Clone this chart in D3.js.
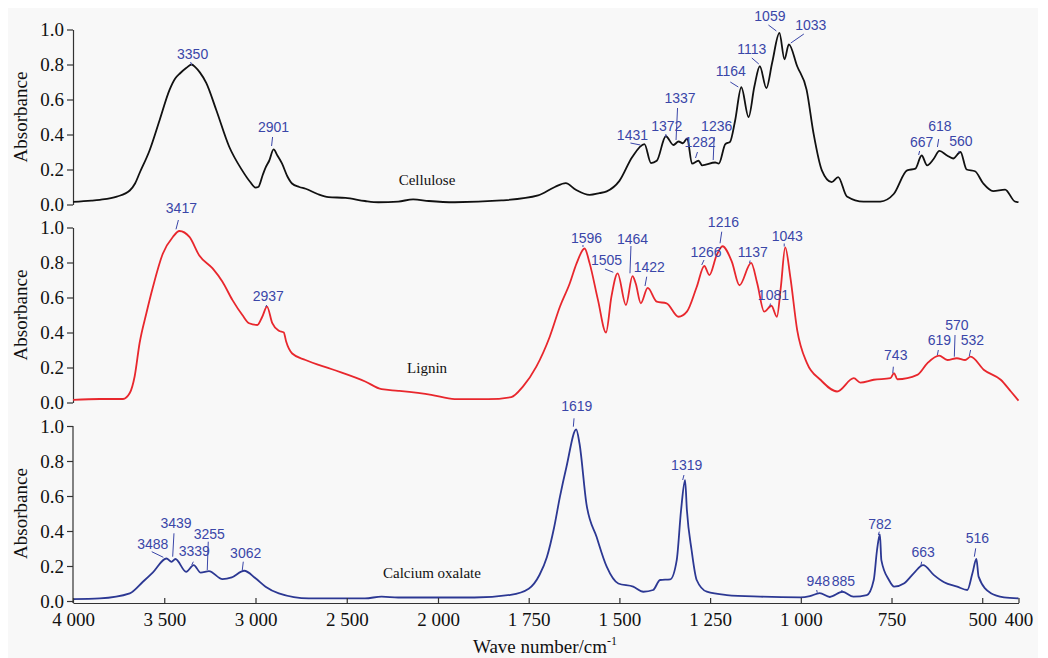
<!DOCTYPE html>
<html>
<head>
<meta charset="utf-8">
<script src="https://cdn.jsdelivr.net/npm/d3@7"></script>
<style>
  body { margin: 0; background: #fff; }
  svg { display: block; }
</style>
</head>
<body>
<div id="chart"></div>
<script>
// spectra: wave number (cm-1) and absorbance
const celluloseWave = [4000, 3900, 3853, 3760, 3689, 3660, 3635, 3580, 3526, 3471, 3440, 3413, 3380, 3350, 3330, 3305, 3270, 3215, 3144, 3073, 3030, 3000, 2985, 2960, 2943, 2925, 2901, 2880, 2855, 2825, 2800, 2760, 2725, 2660, 2600, 2507, 2400, 2327, 2218, 2136, 2050, 1954, 1825, 1724, 1678, 1648, 1620, 1582, 1555, 1535, 1500, 1465, 1431, 1413, 1397, 1372, 1351, 1337, 1325, 1313, 1300, 1282, 1272, 1236, 1226, 1208, 1195, 1181, 1164, 1144, 1128, 1113, 1095, 1079, 1059, 1045, 1033, 1010, 984, 965, 942, 915, 897, 873, 827, 781, 744, 707, 684, 667, 652, 634, 618, 597, 580, 560, 543, 520, 497, 470, 437, 410, 400];
const celluloseAbs = [0.015, 0.022, 0.027, 0.045, 0.08, 0.12, 0.18, 0.31, 0.48, 0.655, 0.72, 0.75, 0.78, 0.80, 0.785, 0.755, 0.695, 0.54, 0.33, 0.195, 0.13, 0.097, 0.10, 0.17, 0.215, 0.25, 0.315, 0.28, 0.235, 0.16, 0.12, 0.10, 0.09, 0.06, 0.042, 0.038, 0.02, 0.013, 0.017, 0.029, 0.02, 0.013, 0.023, 0.052, 0.10, 0.122, 0.084, 0.055, 0.065, 0.075, 0.135, 0.27, 0.345, 0.237, 0.25, 0.39, 0.34, 0.36, 0.35, 0.378, 0.234, 0.25, 0.224, 0.24, 0.234, 0.345, 0.358, 0.48, 0.67, 0.50, 0.674, 0.79, 0.665, 0.81, 0.98, 0.83, 0.915, 0.79, 0.655, 0.407, 0.195, 0.128, 0.157, 0.046, 0.017, 0.017, 0.06, 0.195, 0.205, 0.28, 0.224, 0.26, 0.306, 0.28, 0.263, 0.30, 0.20, 0.19, 0.12, 0.077, 0.085, 0.017, 0.013];

const ligninWave = [4000, 3853, 3726, 3689, 3662, 3635, 3598, 3562, 3508, 3453, 3417, 3362, 3308, 3235, 3181, 3126, 3072, 3035, 2990, 2963, 2937, 2908, 2872, 2845, 2832, 2799, 2726, 2581, 2399, 2309, 2218, 2037, 1954, 1862, 1798, 1766, 1729, 1692, 1664, 1637, 1618, 1596, 1582, 1559, 1537, 1522, 1505, 1482, 1464, 1455, 1441, 1422, 1397, 1370, 1337, 1314, 1287, 1266, 1252, 1232, 1216, 1190, 1169, 1137, 1120, 1101, 1081, 1066, 1055, 1043, 1029, 1010, 983, 946, 900, 854, 836, 799, 753, 743, 734, 679, 651, 619, 596, 570, 547, 532, 495, 449, 421, 400];
const ligninAbs = [0.015, 0.02, 0.02, 0.054, 0.15, 0.34, 0.51, 0.66, 0.85, 0.946, 0.98, 0.946, 0.84, 0.766, 0.69, 0.585, 0.50, 0.453, 0.443, 0.49, 0.548, 0.453, 0.41, 0.40, 0.348, 0.28, 0.243, 0.19, 0.12, 0.076, 0.067, 0.044, 0.019, 0.019, 0.031, 0.091, 0.205, 0.376, 0.547, 0.68, 0.795, 0.88, 0.795, 0.585, 0.40, 0.605, 0.738, 0.557, 0.722, 0.68, 0.567, 0.655, 0.576, 0.567, 0.49, 0.519, 0.66, 0.78, 0.728, 0.842, 0.893, 0.804, 0.67, 0.798, 0.68, 0.519, 0.553, 0.49, 0.66, 0.886, 0.718, 0.414, 0.225, 0.13, 0.063, 0.139, 0.114, 0.13, 0.139, 0.168, 0.133, 0.158, 0.225, 0.268, 0.243, 0.253, 0.243, 0.262, 0.186, 0.13, 0.063, 0.011];

const oxalateWave = [4000, 3853, 3689, 3617, 3562, 3488, 3460, 3439, 3380, 3339, 3300, 3255, 3181, 3130, 3062, 3000, 2945, 2872, 2708, 2400, 2309, 2218, 1900, 1800, 1750, 1720, 1700, 1680, 1664, 1646, 1619, 1610, 1591, 1563, 1535, 1503, 1462, 1434, 1407, 1388, 1360, 1342, 1330, 1319, 1314, 1301, 1287, 1259, 1204, 1112, 1001, 975, 948, 920, 885, 855, 818, 799, 790, 782, 778, 757, 743, 716, 689, 663, 633, 605, 569, 541, 527, 516, 510, 476, 440, 400];
const oxalateAbs = [0.011, 0.015, 0.044, 0.11, 0.164, 0.243, 0.224, 0.24, 0.167, 0.205, 0.162, 0.171, 0.125, 0.135, 0.173, 0.13, 0.082, 0.044, 0.015, 0.015, 0.025, 0.02, 0.02, 0.035, 0.07, 0.15, 0.25, 0.42, 0.595, 0.766, 0.98, 0.90, 0.557, 0.367, 0.196, 0.10, 0.082, 0.053, 0.063, 0.12, 0.124, 0.234, 0.52, 0.69, 0.52, 0.29, 0.12, 0.053, 0.034, 0.025, 0.021, 0.028, 0.045, 0.023, 0.053, 0.025, 0.034, 0.12, 0.29, 0.38, 0.234, 0.12, 0.082, 0.10, 0.158, 0.205, 0.148, 0.107, 0.082, 0.063, 0.158, 0.24, 0.139, 0.044, 0.021, 0.015];

// labelled peaks
const cellulosePeaks = [3350, 2901, 1431, 1372, 1337, 1282, 1236, 1164, 1113, 1059, 1033, 667, 618, 560];
const ligninPeaks = [3417, 2937, 1596, 1505, 1464, 1422, 1266, 1216, 1137, 1081, 1043, 743, 619, 570, 532];
const oxalatePeaks = [3488, 3439, 3339, 3255, 3062, 1619, 1319, 948, 885, 782, 663, 516];

const sampleNames = ['Cellulose', 'Lignin', 'Calcium oxalate'];

const xTicks = [4000, 3500, 3000, 2500, 2000, 1750, 1500, 1250, 1000, 750, 500, 400];
const xTickLabels = ['4 000', '3 500', '3 000', '2 500', '2 000', '1 750', '1 500', '1 250', '1 000', '750', '500', '400'];
const yTicks = [0, 0.2, 0.4, 0.6, 0.8, 1.0];
const yTickLabels = ['0.0', '0.2', '0.4', '0.6', '0.8', '1.0'];

// label layout: [text dx, text baseline from panel top, leader x1, y1, x2, y2]
const celluloseLabelPos = [
  [1, 29.5, -1, 32.5, 0, 35.5], [0, 102.5, -1, 107.5, -2, 116.5], [-12, 110, -14, 113.5, -4, 115.5],
  [1, 101.5, 0, 104.5, 0, 107.5], [1.5, 73.5, -1, 78.5, -2.5, 110.5], [1.5, 117.5, -1, 122.5, -3, 128.5],
  [1.5, 101.5, -1, 107.5, -2, 130.5], [-10.5, 46.5, -11, 52.5, -3, 57.5], [-8, 24.5, -8, 28.5, -1, 34.5],
  [-9.5, -9, -11, -4.5, -3, 1.5], [22, 0, 15, 4.5, 2, 13.5], [0, 117.5, -2, 121.5, -3, 125.5],
  [0.5, 101.5, -0.7, 109.5, -2, 117.5], [0.5, 116.5, -1.4, 121.5, -1.7, 123.5]
];
const ligninLabelPos = [
  [2, -14.5, -1, -7.5, -3.4, 1.8], [1.3, 73.5, -0.3, 77.5, -1.3, 79.5], [2, 15.5, -1.6, 17.5, -1.6, 19.5],
  [-11, 37, -12.6, 41.5, -4.3, 44.8], [0, 16, -1.5, 18.5, -2.5, 45.8], [1.6, 44.5, -1, 49.2, -2.7, 58.5],
  [1.7, 29.5, -0.3, 32.5, -2.6, 37.5], [1, -0.5, -0.7, 4.2, -2.4, 15.8], [1.6, 29.5, -1, 33, -1.5, 35.5],
  [2, 72, -1, 76, -1.6, 79], [2, 13.5, -1, 16, -1, 19], [1.7, 132, -0.7, 139.2, -1.3, 145.8],
  [0.3, 117.5, -0.7, 122.5, -1.7, 127.5], [0, 102, -1.8, 107.5, -2.5, 129.2], [1.7, 117.5, 0, 122.5, -1.3, 128.5]
];
const oxalateLabelPos = [
  [-13.7, 122.5, -14.7, 125.7, -3.1, 131.3], [0.6, 102, -1.4, 107.3, -2.7, 130.7], [0.7, 130, -0.3, 135.7, -1.9, 139],
  [0.3, 112.5, -0.7, 115.7, -1.7, 144], [1.5, 132, -0.9, 135.7, -1.9, 144], [0.5, -15, -2.2, -7.7, -2.9, 0.7],
  [1.6, 43.5, -1.1, 49, -2.4, 54], [-1.4, 160, -3, 164, -2.4, 166.7], [0.8, 160, -0.8, 164, -0.2, 166.7],
  [0, 102.5, -0.6, 105.7, -1.6, 109], [0, 131, -1.4, 135.7, -2.1, 139], [1, 117, -0.7, 122.3, -2.1, 130.7]
];
// sample name anchor: [wave number, baseline from panel top]
const namePos = [[2060, 155.5], [2060, 145.5], [2033, 152]];

const w = 1048;
const h = 658;
const panelTops = [29.5, 227.5, 426];
const panelH = 175;
const axisY = 603;
const serif = "'Liberation Serif', 'Times New Roman', serif";
const sans = "'Liberation Sans', Arial, sans-serif";
const labelColor = '#3a46a8';

const series = [
  { wave: celluloseWave, abs: celluloseAbs, color: '#111111', peaks: cellulosePeaks, pos: celluloseLabelPos },
  { wave: ligninWave, abs: ligninAbs, color: '#e8272d', peaks: ligninPeaks, pos: ligninLabelPos },
  { wave: oxalateWave, abs: oxalateAbs, color: '#2c3893', peaks: oxalatePeaks, pos: oxalateLabelPos }
];

// the axis is split: 4000-2000 is drawn at half the scale of 2000-400
const xScale = d3.scaleLinear()
                 .domain([4000, 2000, 400])
                 .range([73, 438, 1018.5]);

const svg = d3.select('#chart')
              .append('svg')
              .attr('width', w)
              .attr('height', h);

svg.append('rect')
   .attr('x', 8)
   .attr('y', 8)
   .attr('width', 1030)
   .attr('height', h - 8)
   .attr('fill', '#f8f8f8');

series.forEach((s, i) => {
  const top = panelTops[i];
  const yScale = d3.scaleLinear()
                   .domain([0, 1])
                   .range([top + panelH, top]);

  const yAxis = d3.axisLeft(yScale)
                  .tickValues(yTicks)
                  .tickFormat((d, k) => yTickLabels[k])
                  .tickSize(6)
                  .tickSizeOuter(0)
                  .tickPadding(3);

  const g = svg.append('g')
               .attr('transform', 'translate(73, 0)')
               .call(yAxis);
  g.selectAll('text')
   .attr('font-family', serif)
   .attr('font-size', 19)
   .attr('fill', '#111');
  g.selectAll('line, path').attr('stroke', '#333').attr('stroke-width', 1.2);
  if (i === 2) {
    g.select('.domain').attr('d', 'M0,' + top + 'V' + axisY);
  }

  svg.append('text')
     .text('Absorbance')
     .attr('transform', 'translate(27,' + (top + panelH / 2) + ') rotate(-90)')
     .attr('text-anchor', 'middle')
     .attr('font-family', serif)
     .attr('font-size', 19)
     .attr('fill', '#111');

  const points = s.wave.map((d, k) => [d, s.abs[k]]);
  const line = d3.line()
                 .x(d => xScale(d[0]))
                 .y(d => yScale(d[1]))
                 .curve(d3.curveMonotoneX);

  svg.append('path')
     .datum(points)
     .attr('d', line)
     .attr('fill', 'none')
     .attr('stroke', s.color)
     .attr('stroke-width', 1.8)
     .attr('stroke-linejoin', 'round');

  s.peaks.forEach((p, k) => {
    const pos = s.pos[k];
    const px = xScale(p);
    svg.append('line')
       .attr('x1', px + pos[2])
       .attr('y1', top + pos[3])
       .attr('x2', px + pos[4])
       .attr('y2', top + pos[5])
       .attr('stroke', labelColor)
       .attr('stroke-width', 1);
    svg.append('text')
       .text(p)
       .attr('x', px + pos[0])
       .attr('y', top + pos[1])
       .attr('text-anchor', 'middle')
       .attr('font-family', sans)
       .attr('font-size', 14)
       .attr('fill', labelColor);
  });

  svg.append('text')
     .text(sampleNames[i])
     .attr('x', xScale(namePos[i][0]))
     .attr('y', top + namePos[i][1])
     .attr('text-anchor', 'middle')
     .attr('font-family', serif)
     .attr('font-size', 15)
     .attr('fill', '#111');
});

const xAxis = d3.axisBottom(xScale)
                .tickValues(xTicks)
                .tickFormat((d, k) => xTickLabels[k])
                .tickSizeInner(-5)
                .tickSizeOuter(0)
                .tickPadding(10);

const gx = svg.append('g')
              .attr('transform', 'translate(0,' + axisY + ')')
              .call(xAxis);
gx.selectAll('text')
  .attr('font-family', serif)
  .attr('font-size', 19)
  .attr('fill', '#111');
gx.selectAll('line, path').attr('stroke', '#333').attr('stroke-width', 1.2);

const title = svg.append('text')
                 .attr('x', 545)
                 .attr('y', 653)
                 .attr('text-anchor', 'middle')
                 .attr('font-family', serif)
                 .attr('font-size', 19)
                 .attr('fill', '#111');
title.append('tspan').text('Wave number/cm');
title.append('tspan').text('-1').attr('font-size', 12).attr('dy', -8);
</script>
</body>
</html>
